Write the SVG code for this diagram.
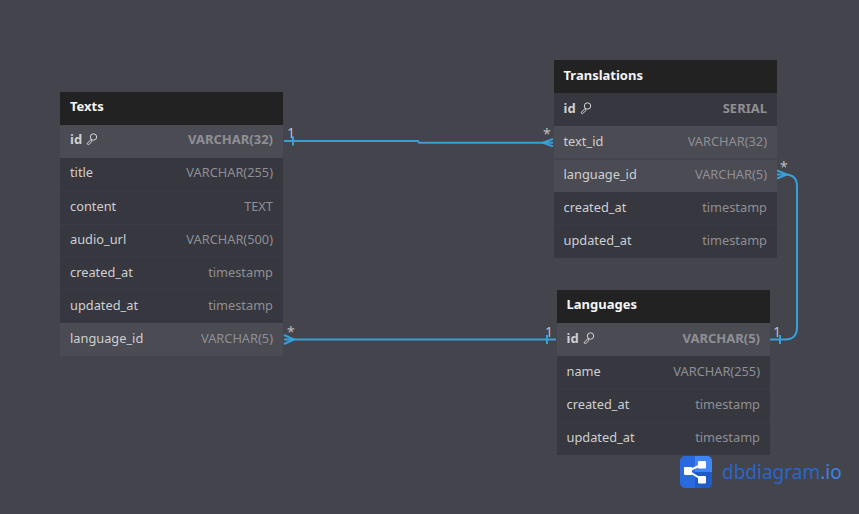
<svg xmlns="http://www.w3.org/2000/svg" width="859" height="514" viewBox="0 0 859 514">
<style>
text{font-family:"Noto Sans","Open Sans","Liberation Sans",sans-serif;font-size:12.800px;fill:#cfcfd1}
.h{fill:#222222}.hl{fill:#4a4b53}.r{fill:#36373f}.sep{stroke:#3b3c44;stroke-width:1}
text.t{font-weight:700;fill:#f5f5f5;font-size:13px}text.b{font-weight:700;font-size:13px}
.ty{text-anchor:end;fill:#8f8f93}
.c{fill:none;stroke:#38a0d8;stroke-width:2}
text.m{fill:#bdbdc0;font-size:14px}
.key{fill:none;stroke:#d6d6d8;stroke-width:1}
</style>
<defs>
<g id="k"><circle cx="3" cy="-2.500" r="3.200" class="key"/><path class="key" d="M0.700-0.300L-3.500 4.200L-1.800 5.200L1.200 2.200V0.500"/></g>
</defs>
<rect width="859" height="514" fill="#43444c"/>
<g id="connectors">
<path class="c" d="M284 141H418L419 142.700H553"/>
<path class="c" d="M293 136.500v9M553 139l-10 3.700 10 3.700"/>
<path class="c" d="M284 339.500H556"/>
<path class="c" d="M284 335l10 4.500-10 4.500M547 335v9"/>
<path class="c" d="M777 174.500H785Q797 174.500 797 186.500V327Q797 339.500 785 339.500H770"/>
<path class="c" d="M777 170.500l10 4-10 4M780 335v9"/>
</g>
<g id="Texts">
<rect class="h" x="60" y="92" width="223" height="33"/>
<rect class="hl" x="60" y="125" width="223" height="33"/>
<rect class="r" x="60" y="158" width="223" height="165"/>
<rect class="hl" x="60" y="323" width="223" height="33"/>
<path class="sep" d="M60 191H283M60 224.500H283M60 257H283M60 290H283"/>
<text class="t" x="70" y="111">Texts</text>
<text class="b" x="70" y="144">id</text><use href="#k" x="90.500" y="139.500"/><text class="ty b" x="273" y="144">VARCHAR(32)</text>
<text x="70" y="177">title</text><text class="ty" x="273" y="177">VARCHAR(255)</text>
<text x="70" y="211">content</text><text class="ty" x="273" y="211">TEXT</text>
<text x="70" y="244">audio_url</text><text class="ty" x="273" y="244">VARCHAR(500)</text>
<text x="70" y="277">created_at</text><text class="ty" x="273" y="277">timestamp</text>
<text x="70" y="310">updated_at</text><text class="ty" x="273" y="310">timestamp</text>
<text x="70" y="343">language_id</text><text class="ty" x="273" y="343">VARCHAR(5)</text>
</g>
<g id="Translations">
<rect class="h" x="554" y="60" width="223" height="33"/>
<rect class="r" x="554" y="93" width="223" height="33"/>
<rect class="hl" x="554" y="126" width="223" height="66"/>
<rect class="r" x="554" y="192" width="223" height="66"/>
<path class="sep" d="M554 159H777M554 225H777"/>
<text class="t" x="563.500" y="80">Translations</text>
<text class="b" x="563.500" y="113">id</text><use href="#k" x="584.500" y="108.500"/><text class="ty b" x="767" y="113">SERIAL</text>
<text x="563.500" y="146">text_id</text><text class="ty" x="767" y="146">VARCHAR(32)</text>
<text x="563.500" y="179">language_id</text><text class="ty" x="767" y="179">VARCHAR(5)</text>
<text x="563.500" y="212">created_at</text><text class="ty" x="767" y="212">timestamp</text>
<text x="563.500" y="245">updated_at</text><text class="ty" x="767" y="245">timestamp</text>
</g>
<g id="Languages">
<rect class="h" x="557" y="290" width="213" height="33"/>
<rect class="hl" x="557" y="323" width="213" height="33"/>
<rect class="r" x="557" y="356" width="213" height="99"/>
<path class="sep" d="M557 389H770M557 422H770"/>
<text class="t" x="566.500" y="309">Languages</text>
<text class="b" x="566.500" y="343">id</text><use href="#k" x="587.500" y="338.500"/><text class="ty b" x="760" y="343">VARCHAR(5)</text>
<text x="566.500" y="376">name</text><text class="ty" x="760" y="376">VARCHAR(255)</text>
<text x="566.500" y="409">created_at</text><text class="ty" x="760" y="409">timestamp</text>
<text x="566.500" y="442">updated_at</text><text class="ty" x="760" y="442">timestamp</text>
</g>
<g id="labels">
<text class="m" x="287" y="138">1</text>
<text class="m" x="543" y="139">*</text>
<text class="m" x="287" y="337">*</text>
<text class="m" x="545" y="337">1</text>
<text class="m" x="780" y="172">*</text>
<text class="m" x="773" y="337">1</text>
</g>
<g id="logo">
<rect x="680" y="456" width="32" height="32" rx="5" fill="#2a6ae0"/>
<path d="M695 456H707a5 5 0 0 1 5 5V472H695Z" fill="#3f85f5"/>
<path d="M695 472H712V483a5 5 0 0 1-5 5H695Z" fill="#1f5cc8"/>
<path d="M688 471L702 464.500M688 471L702 479.500" stroke="#fff" stroke-width="2" fill="none"/>
<rect x="684" y="467" width="8" height="8" rx="1" fill="#fff"/><rect x="698" y="461" width="8" height="7.500" rx="1" fill="#fff"/><rect x="698" y="476" width="8" height="7.500" rx="1" fill="#fff"/>
<text x="722" y="479" style="font-size:19px;fill:#2a66c9">dbdiagram<tspan fill="#3b82e8">.io</tspan></text>
</g>
</svg>
